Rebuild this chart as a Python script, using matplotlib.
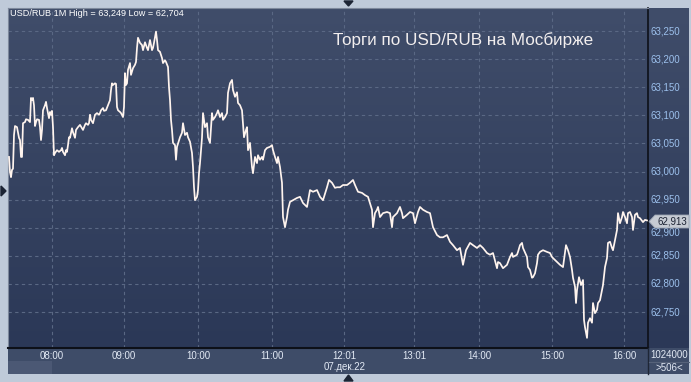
import matplotlib
matplotlib.use("Agg")
import matplotlib.pyplot as plt
import numpy as np
from matplotlib.transforms import blended_transform_factory
from matplotlib.colors import LinearSegmentedColormap

plt.rcParams['font.family'] = ['Liberation Sans', 'DejaVu Sans']

# ---- data ----
bars = [1, 2, 3, 4, 5, 6, 7, 9, 11, 12, 13, 14, 15, 17, 18, 20, 22, 23, 24, 25, 26, 27, 28, 29, 31, 32, 33, 34, 35,
        37, 38, 39, 40, 41, 42, 43, 44, 45, 46, 47, 49, 51, 53, 54, 55, 57, 58, 59, 60, 61, 62, 64, 65, 66, 67, 68,
        70, 72, 74, 75, 77, 78, 80, 81, 82, 83, 85, 87, 89, 91, 92, 93, 95, 96, 98, 100, 102, 103, 104, 105, 107,
        108, 109, 110, 112, 113, 115, 116, 117, 118, 119, 120, 122, 123, 125, 127, 128, 129, 130, 132, 134, 135,
        137, 139, 140, 142, 144, 145, 146, 148, 149, 150, 152, 154, 155, 157, 158, 160, 161, 162, 163, 164, 165,
        167, 168, 169, 172, 174, 175, 177, 179, 180, 182, 184, 185, 186, 187, 189, 190, 191, 192, 194, 195, 197,
        199, 200, 202, 204, 205, 207, 209, 210, 212, 214, 215, 217, 219, 220, 222, 224, 225, 227, 229, 230, 232,
        234, 235, 236, 238, 239, 240, 242, 244, 245, 247, 249, 250, 252, 254, 255, 257, 259, 262, 264, 265, 267,
        269, 270, 272, 274, 275, 277, 279, 280, 282, 285, 289, 292, 295, 299, 302, 305, 309, 312, 315, 319, 321,
        324, 327, 329, 332, 335, 339, 342, 345, 347, 350, 354, 357, 360, 364, 365, 367, 369, 370, 372, 375, 379,
        382, 384, 385, 389, 392, 394, 395, 399, 402, 405, 407, 410, 412, 415, 419, 422, 425, 429, 432, 435, 439,
        442, 445, 449, 452, 455, 458, 462, 465, 469, 472, 475, 479, 482, 485, 489, 490, 492, 495, 499, 502, 504,
        505, 509, 510, 512, 514, 515, 519, 520, 522, 524, 525, 527, 529, 530, 532, 535, 539, 542, 544, 545, 549,
        552, 555, 558, 560, 562, 564, 565, 567, 568, 569, 571, 573, 575, 576, 577, 579, 580, 582, 584, 585, 587,
        589, 590, 592, 594, 595, 597, 599, 600, 602, 604, 605, 607, 609, 610, 612, 614, 615, 617, 619, 620, 622,
        624, 625, 627, 629, 630, 632, 635, 637, 639]
prices = [63026, 62999, 62990, 63003, 63005, 63065, 63081, 63079, 63060, 63056, 63026, 63026, 63086, 63088, 63093,
          63092, 63088, 63131, 63127, 63131, 63118, 63081, 63088, 63093, 63092, 63079, 63056, 63074, 63109,
          63118, 63124, 63113, 63104, 63095, 63106, 63101, 63108, 63079, 63029, 63033, 63038, 63035, 63038, 63042,
          63035, 63029, 63038, 63035, 63047, 63061, 63060, 63077, 63070, 63065, 63060, 63074,
          63079, 63083, 63077, 63074, 63083, 63086, 63083, 63086, 63101, 63092, 63086, 63101, 63104, 63101, 63104,
          63109, 63113, 63108, 63109, 63118, 63127, 63145, 63157, 63154, 63157,
          63156, 63115, 63109, 63106, 63104, 63097, 63115, 63175, 63154, 63157, 63181, 63193, 63172, 63184, 63190,
          63195, 63220, 63238, 63229, 63225, 63216,
          63230, 63220, 63216, 63234, 63216, 63220, 63229, 63249, 63234, 63216, 63213, 63202, 63193, 63198, 63195,
          63186, 63150, 63127, 63092, 63074, 63051,
          63047, 63021, 63044, 63061, 63069, 63086, 63065, 63069, 63061, 63053, 63033, 63008, 62972, 62949, 62955,
          62967, 62997, 63015, 63060, 63104, 63079,
          63086, 63061, 63051, 63104, 63092, 63097, 63104, 63109, 63097, 63104, 63092, 63097, 63104, 63140, 63157,
          63163, 63145, 63133, 63141, 63122, 63118,
          63109, 63086, 63061, 63074, 63079, 63038, 63051, 63008, 62997, 63026, 63015, 63029, 63021, 63026, 63021,
          63038, 63042, 63044, 63047, 63038, 63026,
          63015, 63026, 63008, 62980, 62919, 62901, 62919, 62932, 62946, 62949, 62953, 62955, 62944, 62937, 62967,
          62964, 62967, 62955, 62949, 62972, 62985,
          62980, 62971, 62972, 62972, 62976, 62976, 62980, 62985, 62976, 62964, 62962, 62958, 62955, 62932, 62901,
          62926, 62932, 62937, 62919, 62926, 62928,
          62926, 62901, 62919, 62926, 62937, 62926, 62917, 62923, 62928, 62926, 62908, 62928, 62937, 62932, 62928,
          62926, 62901, 62887, 62883, 62883, 62887,
          62875, 62869, 62860, 62864, 62834, 62860, 62873, 62869, 62864, 62869, 62864, 62855, 62852, 62855, 62828,
          62839, 62837, 62828, 62834, 62848, 62855,
          62848, 62852, 62857, 62869, 62873, 62864, 62848, 62830, 62825, 62811, 62812, 62819, 62837, 62852, 62857,
          62860, 62857, 62855, 62848, 62846, 62839,
          62834, 62830, 62869, 62860, 62848, 62825, 62811, 62795, 62766, 62789, 62812, 62798, 62807, 62736, 62723,
          62704, 62731, 62739, 62731, 62766, 62748,
          62754, 62766, 62771, 62789, 62798, 62830, 62846, 62873, 62875, 62864, 62860, 62878, 62896, 62926, 62908,
          62919, 62928, 62919, 62908, 62926, 62928,
          62919, 62896, 62923, 62926, 62919, 62917, 62910, 62914, 62913]

tick_bars = [44, 116, 190, 264, 336, 406, 471, 544, 616]
tick_labels = ['08:00', '09:00', '10:00', '11:00', '12:01', '13:01', '14:00', '15:00', '16:00']
y_grid = [62750, 62800, 62850, 62900, 62950, 63000, 63050, 63100, 63150, 63200, 63250]
y_labels = ['62,750', '62,800', '62,850', '62,900', '62,950', '63,000', '63,050', '63,100', '63,150', '63,200', '63,250']
last_price_label = '62,913'
header = 'USD/RUB 1M High = 63,249 Low = 62,704'
caption = 'Торги по USD/RUB на Мосбирже'
date_label = '07.дек.22'
volume_label = '1024000'
count_label = '>506<'

YMIN, YMAX = 62686, 63291
W, H = 691, 382

fig = plt.figure(figsize=(W / 100, H / 100), dpi=100)
fig.patch.set_facecolor('#bfcad9')

def rect(x0, y0, x1, y1):
    return [x0 / W, 1 - y1 / H, (x1 - x0) / W, (y1 - y0) / H]

grad = np.linspace(0, 1, 256).reshape(-1, 1)
cmap = LinearSegmentedColormap.from_list('bg', ['#404d6a', '#2b3857'])

# bottom panel
axb = fig.add_axes(rect(8, 348, 689, 374))
axb.set_facecolor('#3e4c68')
axb.set_xticks([]); axb.set_yticks([])
for s in axb.spines.values():
    s.set_visible(False)

# right panel
axr = fig.add_axes(rect(648, 8, 689, 348))
axr.imshow(grad, aspect='auto', cmap=cmap, extent=[0, 1, 0, 1], transform=axr.transAxes, zorder=0)
axr.set_xlim(0, 1); axr.set_ylim(YMIN, YMAX)
axr.set_xticks([]); axr.set_yticks([])
for s in axr.spines.values():
    s.set_visible(False)
tr = blended_transform_factory(axr.transAxes, axr.transData)
for v, lab in zip(y_grid, y_labels):
    if lab == '62,900':
        # partly hidden behind the last-price tag, as in the reference
        axr.text(0.07, v, lab, transform=tr, ha='left', va='top', fontsize=7, color='#9cc0ec',
                 clip_on=True).set_clip_box(None)
        continue
    axr.text(0.07, v, lab, transform=tr, ha='left', va='center', fontsize=7, color='#9cc0ec')

# main axes
ax = fig.add_axes(rect(8, 8, 648, 348))
ax.imshow(grad, aspect='auto', cmap=cmap, extent=[0, 1, 0, 1], transform=ax.transAxes, zorder=0)
ax.set_xlim(0, 640)
ax.set_ylim(YMIN, YMAX)
ax.set_yticks(y_grid)
ax.set_xticks(tick_bars)
ax.set_xticklabels(tick_labels)
ax.tick_params(axis='y', left=False, labelleft=False)
ax.tick_params(axis='x', length=0, pad=2.5, labelsize=7, labelcolor='#e2e9f4')
ax.grid(True, color='#5a6884', linestyle=(0, (3, 3)), linewidth=0.8, zorder=1)
ax.plot(bars, prices, color='#fff4ee', linewidth=1.25, zorder=3)
for k in ['top', 'left']:
    ax.spines[k].set_color('#7d889b')
    ax.spines[k].set_linewidth(0.8)
ax.spines['bottom'].set_color('#0d1018'); ax.spines['bottom'].set_linewidth(1.5)
ax.spines['right'].set_color('#0d1018'); ax.spines['right'].set_linewidth(1.2)

# overlay for decorations
ov = fig.add_axes([0, 0, 1, 1], zorder=10)
ov.set_xlim(0, W); ov.set_ylim(H, 0); ov.axis('off')
ov.add_patch(plt.Rectangle((8, 361), 44, 13, color='#4b5874', lw=0))
ov.plot([648, 648], [348, 374], color='#1e2636', lw=1)
ov.plot([649, 689], [362, 362], color='#56627a', lw=0.8)
ov.fill([344, 353, 348.5], [1, 1, 6], color='#1c2434')
ov.fill([344, 353, 348.5], [381, 381, 375], color='#1c2434')
ov.fill([1, 1, 6], [186, 196, 191], color='#1c2434')
ov.fill([649, 655, 689, 689, 655], [221.5, 215, 215, 228, 228], color='#c6cbd3', ec='#9aa3b1', lw=0.6)
ov.text(672, 221.5, last_price_label, ha='center', va='center', fontsize=7, color='#1c2333')
ov.text(669, 355, volume_label, ha='center', va='center', fontsize=7, color='#e2e9f4')
ov.text(669, 368, count_label, ha='center', va='center', fontsize=7, color='#e2e9f4')
ov.text(345, 367, date_label, ha='center', va='center', fontsize=7, color='#e2e9f4')
ov.text(10, 14, header, ha='left', va='center', fontsize=6.6, color='#ffffff')
ov.text(333, 40, caption, ha='left', va='center', fontsize=12.3, color='#f2eeee')

fig.savefig('out.png', dpi=100, facecolor=fig.get_facecolor())
